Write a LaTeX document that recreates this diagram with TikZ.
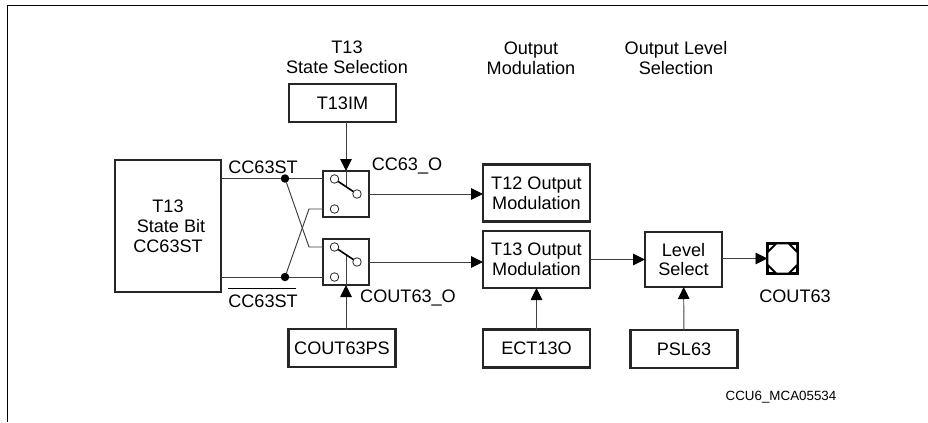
\documentclass[tikz,border=0pt]{standalone}
\usepackage{fontspec}
\setmainfont{Liberation Sans}
\usepackage{tikz}
\usetikzlibrary{arrows.meta, shapes.geometric}
\definecolor{sigline}{HTML}{404040}
\tikzset{
  ubox/.style={draw=black!85,line width=1.3pt,outer sep=0pt,inner sep=0pt,fill=white,align=center,font=\fontsize{10.3}{11.3}\selectfont},
  regbox/.style={ubox,minimum width=2.14cm,minimum height=.76cm},
  modbox/.style={ubox,minimum width=2.14cm,minimum height=1.14cm},
  selbox/.style={ubox,minimum width=1.54cm,minimum height=1.10cm},
  swbox/.style={ubox,minimum size=.92cm},
  swpin/.style={circle,draw=black!85,fill=white,line width=.45pt,minimum size=.17cm,inner sep=0pt,outer sep=0pt},
  swarm/.style={line width=.9pt,black},
  txtlbl/.style={inner sep=0pt,align=center,font=\fontsize{10.3}{11.3}\selectfont},
  sigwire/.style={sigline,line width=.55pt},
  sigarrow/.style={sigwire,-{Triangle[length=2.4mm,width=2.3mm,black]}},
  sigdot/.style={circle,fill=black,minimum size=.17cm,inner sep=0pt,outer sep=0pt},
  pinsq/.style={draw=black,line width=1.3pt,minimum size=.60cm,inner sep=0pt,outer sep=0pt,fill=white},
  pinoct/.style={regular polygon,regular polygon sides=8,draw=black,line width=1.1pt,minimum size=.65cm,inner sep=0pt,fill=white},
}

\begin{document}
\begin{tikzpicture}[x=.2mm,y=-.2mm]
  \useasboundingbox (0,0) rectangle (928,422);
  % page frame
  \coordinate (fTL) at (7.5,5.5);
  \coordinate (fTR) at (928,5.5);
  \coordinate (fBL) at (7.5,422);
  \draw[line width=.55pt] (fBL) -- (fTL) -- (fTR);
  % blocks
  \node[ubox,minimum width=2.12cm,minimum height=2.64cm] (nBit) at (168,226) {T13\\\hspace{.12cm}State Bit\\CC63ST\hspace{.04cm}};
  \node[regbox] (nIM) at (342.5,103) {T13IM};
  \node[regbox] (nPS) at (342,348) {COUT63PS};
  \node[swbox] (nSwA) at (346,194) {};
  \node[swbox] (nSwB) at (346,262) {};
  \node[modbox] (nModA) at (536.5,193) {T12 Output\\Modulation};
  \node[modbox] (nModB) at (536.5,259.5) {T13 Output\\Modulation};
  \node[regbox] (nECT) at (536.5,348.5) {ECT13O};
  \node[selbox] (nLvl) at (683.5,259.5) {Level\\Select};
  \node[regbox] (nPSL) at (684,349) {PSL63};
  \node[pinsq] (nPad) at (782.5,258.5) {};
  \node[pinoct] (nPin) at (nPad) {};
  % headings
  \node[txtlbl] (tState) at (347,57) {T13\\State Selection};
  \node[txtlbl] (tMod) at (531,58) {Output\\Modulation};
  \node[txtlbl] (tLvl) at (676,58) {Output Level\\Selection};
  % switch contacts
  \coordinate (aTap) at (346,186.5);
  \coordinate (bTap) at (346,254.5);
  \draw[sigwire] (nSwA.north) -- (aTap);
  \draw[sigwire] (nSwB.south) -- (bTap);
  \node[swpin] (aIn) at (334.5,179) {};
  \node[swpin] (aOut) at (357,194) {};
  \node[swpin] (aAlt) at (334.5,209) {};
  \node[swpin] (bIn) at (334.5,247) {};
  \node[swpin] (bOut) at (357,262) {};
  \node[swpin] (bAlt) at (334.5,277) {};
  \draw[swarm] (aIn) -- (aOut);
  \draw[swarm] (bIn) -- (bOut);
  % junctions
  \node[sigdot] (jTop) at (285,178.5) {};
  \node[sigdot] (jBot) at (285,277) {};
  \coordinate (xA) at (309,247);
  \coordinate (xB) at (309,209);
  \draw[sigwire] (nBit.east |- jTop) -- (jTop) -- (jTop -| nSwA.west);
  \draw[sigwire] (nBit.east |- jBot) -- (jBot) -- (jBot -| nSwB.west);
  \draw[sigwire] (jTop) -- (xA) -- (xA -| nSwB.west);
  \draw[sigwire] (jBot) -- (xB) -- (xB -| nSwA.west);
  \draw[sigarrow] (nIM.south -| nSwA) -- (nSwA.north);
  \draw[sigarrow] (nPS.north -| nSwB) -- (nSwB.south);
  \draw[sigarrow] (nSwA.east) -- (nSwA.east -| nModA.west);
  \draw[sigarrow] (nSwB.east) -- (nSwB.east -| nModB.west);
  \draw[sigarrow] (nECT) -- (nModB);
  \draw[sigarrow] (nModB) -- (nLvl);
  \draw[sigarrow] (nPSL) -- (nLvl);
  \draw[sigarrow] (nLvl.east |- nPad) -- (nPad);
  % labels
  \node[txtlbl] (lTop) at (263,167) {CC63ST};
  \node[txtlbl] (lBot) at (263,301) {CC63ST};
  \coordinate (oL) at (228,288.5);
  \coordinate (oR) at (296,288.5);
  \draw[line width=.45pt] (oL) -- (oR);
  \node[txtlbl] (lSwA) at (407,166) {CC63\_O};
  \node[txtlbl] (lSwB) at (408,298) {COUT63\_O};
  \node[txtlbl] (lPin) at (795,296) {COUT63};
  \node[txtlbl,font=\fontsize{7.6}{8}\selectfont] (lRef) at (781,397) {CCU6\_MCA05534};
\end{tikzpicture}
\end{document}
